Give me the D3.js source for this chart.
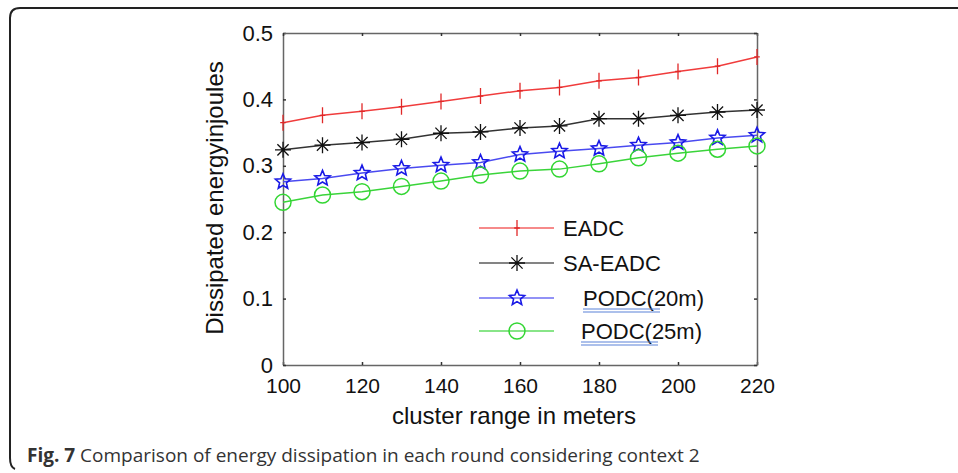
<!DOCTYPE html>
<html>
<head>
<meta charset="utf-8">
<script src="https://cdn.jsdelivr.net/npm/d3@7"></script>
<style>
  body { margin: 0; background: #fff; }
  svg { display: block; }
</style>
</head>
<body>
<script>
const sizeOfSVG = { width: 958, height: 473 };

// cluster range (m)
const clusterRange = [100, 110, 120, 130, 140, 150, 160, 170, 180, 190, 200, 210, 220];
const eadc      = [0.365, 0.376, 0.382, 0.389, 0.397, 0.405, 0.413, 0.418, 0.428, 0.433, 0.442, 0.450, 0.464];
const saEadc    = [0.324, 0.331, 0.335, 0.340, 0.349, 0.351, 0.357, 0.360, 0.371, 0.371, 0.376, 0.381, 0.384];
const podc20    = [0.276, 0.281, 0.289, 0.296, 0.301, 0.305, 0.317, 0.322, 0.326, 0.331, 0.335, 0.342, 0.346];
const podc25    = [0.245, 0.256, 0.261, 0.269, 0.277, 0.286, 0.292, 0.295, 0.303, 0.312, 0.319, 0.325, 0.330];
const seriesNames = ['EADC', 'SA-EADC', 'PODC(20m)', 'PODC(25m)'];
const xTicks = [100, 120, 140, 160, 180, 200, 220];
const yTicks = [0, 0.1, 0.2, 0.3, 0.4, 0.5];

const plot = { left: 283, right: 757, top: 33, bottom: 365 };

const svg = d3.select('body').append('svg')
    .attr('width', sizeOfSVG.width)
    .attr('height', sizeOfSVG.height)

// rounded frame around the figure (only top and left sides visible)
svg.append('path')
    .attr('d', `M${sizeOfSVG.width},8 H20 Q10,8 10,18 V458 Q10,467 15,469`)
    .attr('fill', 'none')
    .attr('stroke', '#222')
    .attr('stroke-width', 2)

const xScale = d3.scaleLinear().domain([100, 220]).range([plot.left, plot.right])
const yScale = d3.scaleLinear().domain([0, 0.5]).range([plot.bottom, plot.top])

// axes, ticks pointing inward like matlab
const xAxis = svg.append('g')
    .attr('transform', `translate(0,${plot.bottom})`)
    .call(d3.axisBottom(xScale).tickValues(xTicks).tickFormat(d3.format('d'))
        .tickSizeInner(-3).tickSizeOuter(0).tickPadding(13))
const yAxis = svg.append('g')
    .attr('transform', `translate(${plot.left},0)`)
    .call(d3.axisLeft(yScale).tickValues(yTicks).tickFormat(d => d === 0 ? '0' : d3.format('.1f')(d))
        .tickSizeInner(-3).tickSizeOuter(0).tickPadding(10))
const topAxis = svg.append('g')
    .attr('transform', `translate(0,${plot.top})`)
    .call(d3.axisTop(xScale).tickValues(xTicks).tickFormat('').tickSizeInner(-3).tickSizeOuter(0))
const rightAxis = svg.append('g')
    .attr('transform', `translate(${plot.right},0)`)
    .call(d3.axisRight(yScale).tickValues(yTicks).tickFormat('').tickSizeInner(-3).tickSizeOuter(0))

;[xAxis, yAxis, topAxis, rightAxis].forEach(g => {
    g.select('.domain').attr('stroke', '#666').attr('stroke-width', 1.5)
    g.selectAll('.tick line').attr('stroke', '#333').attr('stroke-width', 1.5)
    g.selectAll('.tick text')
        .attr('font-family', 'Liberation Sans, Arial, sans-serif')
        .attr('font-size', 21)
        .attr('fill', '#111')
})
yAxis.selectAll('.tick text').attr('font-size', 22)

// axis titles
svg.append('text')
    .attr('x', (plot.left + plot.right) / 2 - 6)
    .attr('y', 424)
    .attr('text-anchor', 'middle')
    .attr('font-family', 'Liberation Sans, Arial, sans-serif')
    .attr('font-size', 24)
    .attr('fill', '#111')
    .text('cluster range in meters')

svg.append('text')
    .attr('transform', `translate(223,198) rotate(-90)`)
    .attr('text-anchor', 'middle')
    .attr('font-family', 'Liberation Sans, Arial, sans-serif')
    .attr('font-size', 24)
    .attr('fill', '#111')
    .text('Dissipated energyinjoules')

// marker shapes
const plusPath = s => `M0,${-s}V${s}M${-s * 0.35},0H${s * 0.35}`
const asteriskPath = s => {
    const d = s * 0.7
    return `M0,${-s}V${s}M${-s},0H${s}M${-d},${-d}L${d},${d}M${-d},${d}L${d},${-d}`
}
const starPath = r => {
    const pts = []
    for (let i = 0; i < 10; i++) {
        const a = -Math.PI / 2 + i * Math.PI / 5
        const rr = i % 2 === 0 ? r : r * 0.45
        pts.push([rr * Math.cos(a), rr * Math.sin(a)])
    }
    return 'M' + pts.map(p => p.join(',')).join('L') + 'Z'
}
const circlePath = r => `M${r},0A${r},${r} 0 1,1 ${-r},0A${r},${r} 0 1,1 ${r},0Z`

const series = [
    { name: seriesNames[0], values: eadc,   line: '#f03c3c', mark: '#e02828', path: plusPath(8),     width: 1.3 },
    { name: seriesNames[1], values: saEadc, line: '#333',    mark: '#111',    path: asteriskPath(8), width: 1.3 },
    { name: seriesNames[2], values: podc20, line: '#4a4af0', mark: '#1a1ae6', path: starPath(8),     width: 1.6 },
    { name: seriesNames[3], values: podc25, line: '#3ad43a', mark: '#33d633', path: circlePath(8),   width: 1.5 }
]

const line = d3.line()
    .x((d, i) => xScale(clusterRange[i]))
    .y(d => yScale(d))

series.forEach(s => {
    svg.append('path')
        .datum(s.values)
        .attr('d', line)
        .attr('fill', 'none')
        .attr('stroke', s.line)
        .attr('stroke-width', 1.5)
    svg.selectAll(null)
        .data(s.values)
        .enter()
        .append('path')
        .attr('transform', (d, i) => `translate(${xScale(clusterRange[i])},${yScale(d)})`)
        .attr('d', s.path)
        .attr('fill', 'none')
        .attr('stroke', s.mark)
        .attr('stroke-width', s.width)
})

// legend
const legendRows = [228, 263, 298, 331]
const legendTextX = [563, 563, 583, 581]
series.forEach((s, i) => {
    const y = legendRows[i]
    svg.append('line')
        .attr('x1', 479).attr('x2', 554)
        .attr('y1', y).attr('y2', y)
        .attr('stroke', s.line)
        .attr('stroke-opacity', 0.8)
        .attr('stroke-width', 1.5)
    svg.append('path')
        .attr('transform', `translate(517,${y})`)
        .attr('d', s.path)
        .attr('fill', 'none')
        .attr('stroke', s.mark)
        .attr('stroke-width', s.width)
    svg.append('text')
        .attr('x', legendTextX[i])
        .attr('y', y + 8)
        .attr('font-family', 'Liberation Sans, Arial, sans-serif')
        .attr('font-size', 22)
        .attr('fill', '#111')
        .text(s.name)
    // blue double underline under PODC entries
    if (i >= 2) {
        const x0 = legendTextX[i]
        ;[0, 3].forEach(off => {
            svg.append('line')
                .attr('x1', x0).attr('x2', x0 + 77)
                .attr('y1', y + 11 + off).attr('y2', y + 11 + off)
                .attr('stroke', '#5b82d8')
                .attr('stroke-width', 1.2)
        })
    }
})

// caption
const caption = svg.append('text')
    .attr('x', 27)
    .attr('y', 462)
    .attr('font-family', 'Open Sans, sans-serif')
    .attr('font-size', 19)
    .attr('fill', '#333')
caption.append('tspan').attr('font-weight', 'bold').text('Fig. 7')
caption.append('tspan').text(' Comparison of energy dissipation in each round considering context 2')
</script>
</body>
</html>
